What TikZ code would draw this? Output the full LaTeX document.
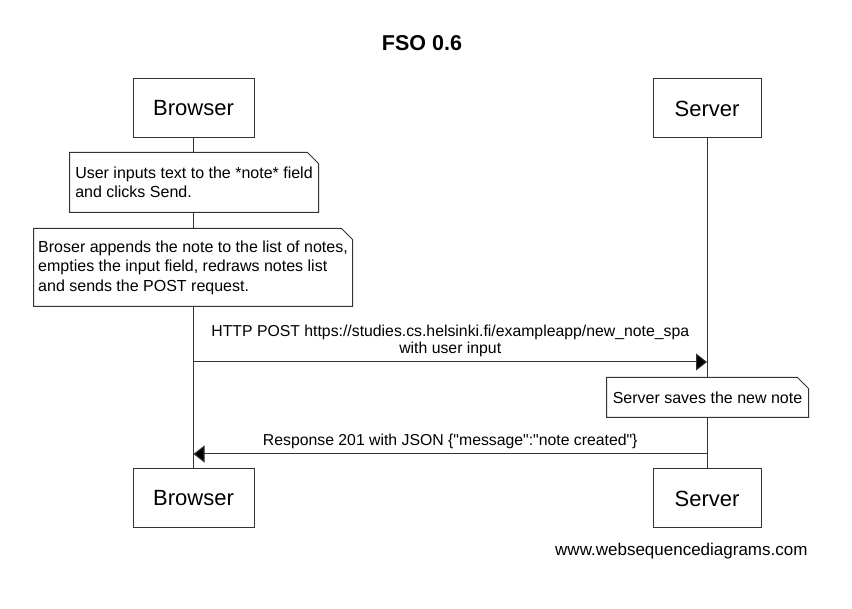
\documentclass[tikz,border=0pt]{standalone}
\usepackage{fontspec}
\setmainfont{Liberation Sans}[Ligatures=TeXOff]
\usetikzlibrary{arrows.meta,positioning}

\definecolor{linecol}{HTML}{333333}

\begin{document}
\begin{tikzpicture}[x=1pt,y=-1pt,line width=1pt]
	\tikzset{
		actor/.style={draw=linecol,fill=white,minimum width=#1,minimum height=59pt,inner sep=0pt,font=\fontsize{22}{26}\selectfont},
		note/.style={align=left,inner sep=0pt,font=\fontsize{16}{19.5}\selectfont,
			append after command={\pgfextra{\draw[draw=linecol,fill=white]
				(\tikzlastnode.south west) -- (\tikzlastnode.north west)
				-- ([xshift=-11pt]\tikzlastnode.north east)
				-- ([yshift=-11pt]\tikzlastnode.north east)
				-- (\tikzlastnode.south east) -- cycle;}}},
		msg/.style={draw=linecol,-{Triangle[length=11pt,width=17pt,fill=black]}},
		lbl/.style={font=\fontsize{15.8}{17}\selectfont,align=center,inner sep=0pt}
	}
	\useasboundingbox (0,0) rectangle (852,609);
	\node[font=\bfseries\fontsize{21.5}{24}\selectfont] (title) at (422,43) {FSO 0.6};
	\node[actor=121pt] (b1) at (193.5,108.5) {Browser};
	\node[actor=108pt] (s1) at (707,108.5) {Server};
	\node[actor=121pt] (b2) at (193.5,498.5) {Browser};
	\node[actor=108pt] (s2) at (707,498.5) {Server};
	\draw[linecol] (b1) -- (b2);
	\draw[linecol] (s1) -- (s2);
	\node[note,minimum width=248pt,minimum height=59pt] (n1) at (194,182.5)
		{User inputs text to the *note* field\\and clicks Send.};
	\node[note,minimum width=318pt,minimum height=77pt] (n2) at (193,267.5)
		{Broser appends the note to the list of notes,\\empties the input field, redraws notes list\\and sends the POST request.};
	\coordinate (bp) at (193.5,362);
	\coordinate (sp) at (707,362);
	\draw[msg] (bp) -- node[lbl,above=5pt] {HTTP POST https://studies.cs.helsinki.fi/exampleapp/new\_note\_spa\\with user input} (sp);
	\node[note,minimum width=201pt,minimum height=39pt] (n3) at (707.5,397.5) {Server saves the new note};
	\coordinate (sr) at (707,454);
	\coordinate (br) at (193.5,454);
	\draw[msg] (sr) -- node[lbl,above=5pt] {Response 201 with JSON \{"message":"note created"\}} (br);
	\node[anchor=east,inner sep=0pt,font=\fontsize{17}{20}\selectfont] (web) at (808,551) {www.websequencediagrams.com};
\end{tikzpicture}
\end{document}
